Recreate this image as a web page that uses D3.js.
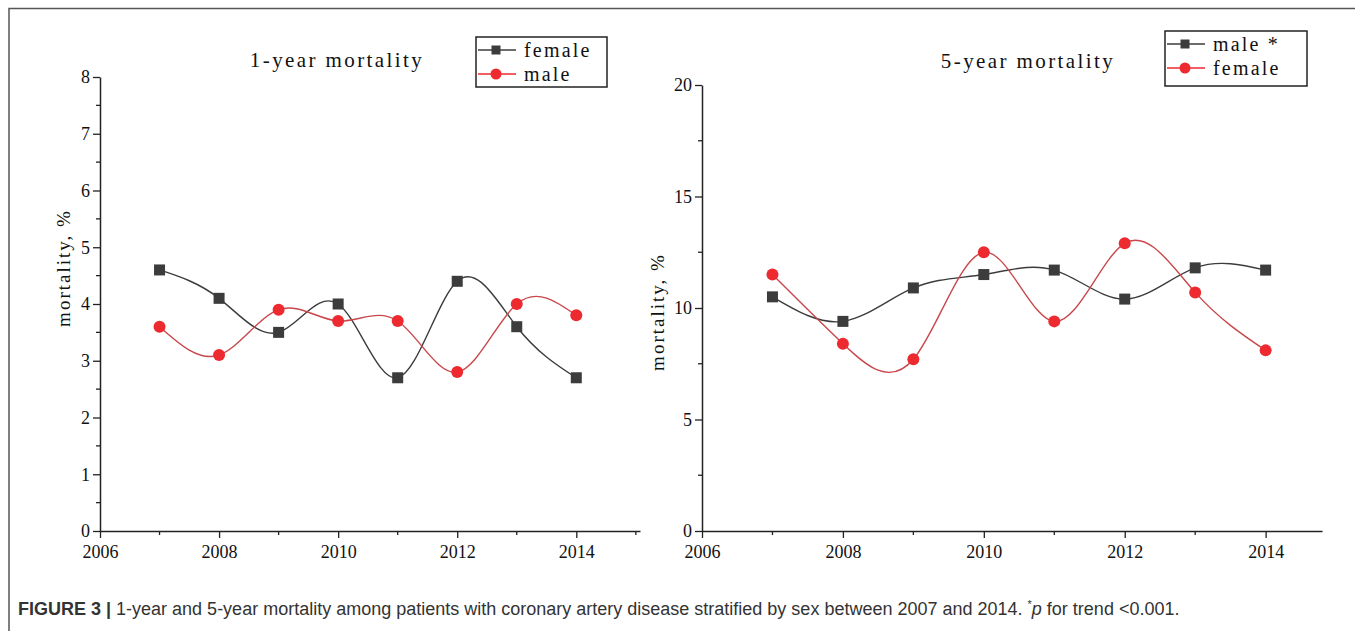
<!DOCTYPE html>
<html>
<head>
<meta charset="utf-8">
<script src="https://cdn.jsdelivr.net/npm/d3@7"></script>
<style>
  html, body { margin: 0; padding: 0; background: #fff; }
  svg { display: block; }
</style>
</head>
<body>
<div id="chart"></div>
<script>
// data
const years = [2007, 2008, 2009, 2010, 2011, 2012, 2013, 2014]
const oneYearFemale = [4.6, 4.1, 3.5, 4.0, 2.7, 4.4, 3.6, 2.7]
const oneYearMale = [3.6, 3.1, 3.9, 3.7, 3.7, 2.8, 4.0, 3.8]
const fiveYearMale = [10.5, 9.4, 10.9, 11.5, 11.7, 10.4, 11.8, 11.7]
const fiveYearFemale = [11.5, 8.4, 7.7, 12.5, 9.4, 12.9, 10.7, 8.1]
const xTicks = [2006, 2008, 2010, 2012, 2014]
const panelTitles = ['1-year mortality', '5-year mortality']
const yLabel = 'mortality, %'

const W = 1355, H = 631
const serif = '"Liberation Serif", "Times New Roman", serif'
const grey = '#3c3c3c', red = '#ec2a2f', redLine = '#c9474b'

const svg = d3.select('#chart').append('svg')
  .attr('width', W)
  .attr('height', H)

// figure frame (top and left edges)
svg.append('path')
  .attr('d', `M9,${H} V8.5 H${W}`)
  .attr('fill', 'none')
  .attr('stroke', '#555')
  .attr('stroke-width', 1.5)

function drawPanel(p) {
  const g = svg.append('g')

  const x = d3.scaleLinear().domain([2006, p.xMax]).range([p.left, p.right])
  const y = d3.scaleLinear().domain([0, p.yMax]).range([p.bottom, p.top])

  // minor ticks
  const xMinor = d3.range(2007, p.xMax, 2)
  g.append('g').selectAll('line').data(xMinor).join('line')
    .attr('x1', d => x(d)).attr('x2', d => x(d))
    .attr('y1', p.bottom).attr('y2', p.bottom + 4)
    .attr('stroke', '#222').attr('stroke-width', 1.3)
  const yMinor = d3.range(p.yStep / 2, p.yMax, p.yStep)
  g.append('g').selectAll('line').data(yMinor).join('line')
    .attr('x1', p.left - 4).attr('x2', p.left)
    .attr('y1', d => y(d)).attr('y2', d => y(d))
    .attr('stroke', '#222').attr('stroke-width', 1.3)

  const xAxis = g.append('g')
    .attr('transform', `translate(0,${p.bottom})`)
    .call(d3.axisBottom(x).tickValues(xTicks).tickFormat(d3.format('d')).tickSize(7).tickSizeOuter(0))
  const yAxis = g.append('g')
    .attr('transform', `translate(${p.left},0)`)
    .call(d3.axisLeft(y).tickValues(d3.range(0, p.yMax + 0.01, p.yStep)).tickSize(7).tickSizeOuter(0))

  for (const ax of [xAxis, yAxis]) {
    ax.select('.domain').attr('stroke', '#222').attr('stroke-width', 1.5)
    ax.selectAll('.tick line').attr('stroke', '#222').attr('stroke-width', 1.3)
    ax.selectAll('.tick text')
      .attr('fill', '#111')
      .style('font-family', serif)
      .style('font-size', '18px')
  }
  xAxis.selectAll('.tick text').attr('dy', '0.95em')
  yAxis.selectAll('.tick text').attr('x', -10)

  // title
  g.append('text')
    .attr('x', p.titleX).attr('y', p.titleY)
    .attr('text-anchor', 'middle')
    .style('font-family', serif).style('font-size', '21px')
    .style('letter-spacing', '2.4px')
    .attr('fill', '#111')
    .text(p.title)

  // y label
  g.append('text')
    .attr('transform', `translate(${p.labelX},${p.labelY}) rotate(-90)`)
    .attr('text-anchor', 'middle')
    .style('font-family', serif).style('font-size', '19px')
    .style('letter-spacing', '2px')
    .attr('fill', '#111')
    .text(yLabel)

  const curve = d3.line()
    .x((d, i) => x(years[i]))
    .y(d => y(d))
    .curve(d3.curveNatural)

  p.series.forEach(s => {
    g.append('path')
      .datum(s.values)
      .attr('d', curve)
      .attr('fill', 'none')
      .attr('stroke', s.shape === 'square' ? grey : redLine)
      .attr('stroke-width', 1.4)
  })
  p.series.forEach(s => {
    const pts = g.append('g')
    if (s.shape === 'square') {
      pts.selectAll('rect').data(s.values).join('rect')
        .attr('x', (d, i) => x(years[i]) - 5.5)
        .attr('y', d => y(d) - 5.5)
        .attr('width', 11).attr('height', 11)
        .attr('fill', grey)
    } else {
      pts.selectAll('circle').data(s.values).join('circle')
        .attr('cx', (d, i) => x(years[i]))
        .attr('cy', d => y(d))
        .attr('r', 6)
        .attr('fill', red)
    }
  })

  // legend
  const lg = g.append('g').attr('transform', `translate(${p.legend.x},${p.legend.y})`)
  lg.append('rect')
    .attr('width', p.legend.w).attr('height', p.legend.h)
    .attr('fill', '#fff').attr('stroke', '#222').attr('stroke-width', 1.5)
  p.series.forEach((s, i) => {
    const cy = 13 + i * 24
    lg.append('line')
      .attr('x1', 2).attr('x2', 40).attr('y1', cy).attr('y2', cy)
      .attr('stroke', s.shape === 'square' ? grey : red).attr('stroke-width', 1.4)
    if (s.shape === 'square') {
      lg.append('rect').attr('x', 15.5).attr('y', cy - 4.5).attr('width', 9).attr('height', 9).attr('fill', grey)
    } else {
      lg.append('circle').attr('cx', 20).attr('cy', cy).attr('r', 5.5).attr('fill', red)
    }
    lg.append('text')
      .attr('x', 48).attr('y', cy).attr('dy', '0.35em')
      .style('font-family', serif).style('font-size', '20px')
      .style('letter-spacing', '2.2px')
      .attr('fill', '#111')
      .text(s.name)
  })
}

drawPanel({
  left: 100, right: 640, top: 77, bottom: 531, xMax: 2015.07, yMax: 8, yStep: 1,
  title: panelTitles[0], titleX: 337, titleY: 67, labelX: 70, labelY: 268,
  legend: { x: 476, y: 37, w: 131, h: 50 },
  series: [
    { name: 'female', values: oneYearFemale, shape: 'square' },
    { name: 'male', values: oneYearMale, shape: 'circle' }
  ]
})

drawPanel({
  left: 702, right: 1322, top: 85, bottom: 531, xMax: 2014.8, yMax: 20, yStep: 5,
  title: panelTitles[1], titleX: 1028, titleY: 68, labelX: 664, labelY: 312,
  legend: { x: 1165, y: 31, w: 142, h: 55 },
  series: [
    { name: 'male *', values: fiveYearMale, shape: 'square' },
    { name: 'female', values: fiveYearFemale, shape: 'circle' }
  ]
})

// caption
const cap = svg.append('text')
  .attr('x', 18).attr('y', 615)
  .style('font-family', '"Liberation Sans", Arial, sans-serif')
  .style('font-size', '18px')
  .attr('fill', '#333')
cap.append('tspan').style('font-weight', 'bold').text('FIGURE 3 | ')
cap.append('tspan').text('1-year and 5-year mortality among patients with coronary artery disease stratified by sex between 2007 and 2014. ')
cap.append('tspan').attr('dy', -7).style('font-size', '11px').text('*')
cap.append('tspan').attr('dy', 7).style('font-style', 'italic').text('p')
cap.append('tspan').text(' for trend <0.001.')
</script>
</body>
</html>
